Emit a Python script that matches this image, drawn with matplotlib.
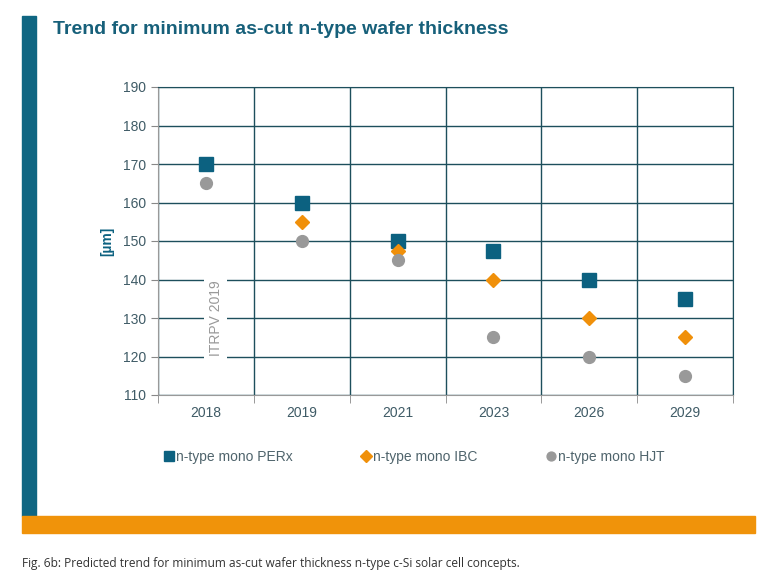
import numpy as np
import matplotlib.pyplot as plt
from matplotlib.patches import Rectangle

# data
years = ['2018', '2019', '2021', '2023', '2026', '2029']
perx = [170, 160, 150, 147.5, 140, 135]
ibc = [np.nan, 155, 147.5, 140, 130, 125]
hjt = [165, 150, 145, 125, 120, 115]
series_names = ['n-type mono PERx', 'n-type mono IBC', 'n-type mono HJT']

teal = '#0c6180'
orange = '#f0900a'
grey = '#999999'
grid_col = '#1d4f5c'
text_col = '#3f5b66'

plt.rcParams['font.family'] = ['Liberation Sans', 'DejaVu Sans']

fig = plt.figure(figsize=(7.76, 5.79), dpi=100)

# frame decorations: teal bar on the left, orange bar at the bottom
fig.patches.append(Rectangle((22 / 776, 1 - 516 / 579), 14 / 776, 500 / 579,
                             transform=fig.transFigure, color='#0f6682', zorder=0))
fig.patches.append(Rectangle((22 / 776, 1 - 533 / 579), 733 / 776, 17 / 579,
                             transform=fig.transFigure, color='#f0930a', zorder=0))

fig.text(53 / 776, 1 - 30 / 579, 'Trend for minimum as-cut n-type wafer thickness',
         fontsize=14, fontweight='bold', color='#17607a', va='center')

fig.text(22 / 776, 1 - 563 / 579,
         'Fig. 6b: Predicted trend for minimum as-cut wafer thickness n-type c-Si solar cell concepts.',
         family=['Open Sans', 'DejaVu Sans'], fontsize=8.6, color='#333333', va='center')

ax = fig.add_axes([158 / 776, 1 - 395 / 579, 575 / 776, 308 / 579])
x = np.arange(len(years))

ax.plot(x, perx, 's', color=teal, markersize=10, label=series_names[0], zorder=3)
ax.plot(x, ibc, 'D', color=orange, markersize=7.5, label=series_names[1], zorder=3)
ax.plot(x, hjt, 'o', color=grey, markersize=8.5, label=series_names[2], zorder=3)

ax.set_xlim(-0.5, len(years) - 0.5)
ax.set_ylim(110, 190)
ax.set_yticks(np.arange(110, 191, 10))
ax.set_xticks(x)
ax.set_xticklabels(years)
ax.set_xticks(np.arange(-0.5, len(years), 1), minor=True)

ax.grid(axis='y', which='major', color=grid_col, linewidth=1)
ax.grid(axis='x', which='minor', color=grid_col, linewidth=1)
ax.set_axisbelow(True)

ax.tick_params(axis='x', which='major', length=0, pad=8, labelsize=10, labelcolor=text_col)
ax.tick_params(axis='x', which='minor', length=6, color='#888888', direction='out')
ax.tick_params(axis='y', length=5, color='#888888', labelsize=10, labelcolor=text_col)

for side in ['left', 'bottom']:
    ax.spines[side].set_color('#999999')
for side in ['top', 'right']:
    ax.spines[side].set_color(grid_col)

ax.set_ylabel('[µm]', color=teal, fontsize=10, fontweight='bold', labelpad=6)

ax.text(0.1, 130, 'ITRPV 2019', rotation=90, color='#999999', fontsize=10,
        ha='center', va='center',
        bbox=dict(facecolor='white', edgecolor='none', pad=3), zorder=2)

fig.legend(loc='center left', bbox_to_anchor=(152 / 776, 1 - 457 / 579), ncol=3,
           frameon=False, fontsize=10, handlelength=0.6, handletextpad=0.2,
           columnspacing=5.0, labelcolor='#4f646c', markerscale=0.75)

fig.savefig('out.png', dpi=100)
